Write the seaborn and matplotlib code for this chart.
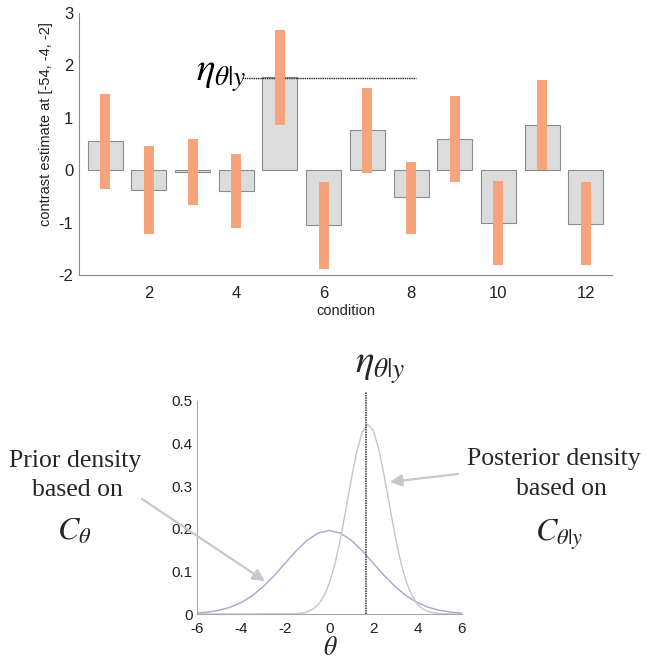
import numpy as np
import matplotlib
matplotlib.use("Agg")
import matplotlib.pyplot as plt
import seaborn as sns

# ---------------- data ----------------
conditions = [1, 2, 3, 4, 5, 6, 7, 8, 9, 10, 11, 12]
estimates = [0.56, -0.38, -0.04, -0.40, 1.77, -1.05, 0.76, -0.52, 0.59, -1.00, 0.86, -1.02]
ci_lower = [-0.35, -1.22, -0.67, -1.11, 0.86, -1.88, -0.05, -1.22, -0.22, -1.81, 0.01, -1.81]
ci_upper = [1.45, 0.46, 0.60, 0.31, 2.67, -0.22, 1.56, 0.16, 1.41, -0.20, 1.72, -0.22]
eta_top = 1.76
eta_bottom = 1.66

top_xticks = [2, 4, 6, 8, 10, 12]
top_yticks = [-2, -1, 0, 1, 2, 3]
bottom_xticks = [-6, -4, -2, 0, 2, 4, 6]
bottom_yticks = [0, 0.1, 0.2, 0.3, 0.4, 0.5]
bottom_yticklabels = ["0", "0.1", "0.2", "0.3", "0.4", "0.5"]

prior_theta = [-6.0, -5.5, -5.0, -4.5, -4.0, -3.5, -3.0, -2.5, -2.0, -1.5, -1.0, -0.5,
               0.0, 0.5, 1.0, 1.5, 2.0, 2.5, 3.0, 3.5, 4.0, 4.5, 5.0, 5.5, 6.0]
prior_density = [0.0022, 0.0045, 0.0086, 0.0156, 0.0265, 0.0424, 0.0636, 0.0897, 0.119,
                 0.148, 0.173, 0.190, 0.196, 0.190, 0.173, 0.148, 0.119, 0.0897, 0.0636,
                 0.0424, 0.0265, 0.0156, 0.0086, 0.0045, 0.0022]

post_theta = [-6.0, -4.0, -2.0, -1.5, -1.25, -1.0, -0.75, -0.5, -0.25, 0.0, 0.25, 0.5, 0.75,
              1.0, 1.25, 1.5, 1.75, 2.0, 2.25, 2.5, 2.75, 3.0, 3.25, 3.5, 3.75, 4.0,
              4.25, 4.5, 4.75, 5.0, 5.5, 6.0]
post_density = [0.0, 0.0, 0.0002, 0.0008, 0.0021, 0.0049, 0.0108, 0.0218, 0.0409, 0.0714,
                0.1157, 0.1742, 0.2436, 0.3163, 0.3816, 0.4276, 0.445, 0.4301, 0.3862,
                0.3220, 0.2494, 0.1794, 0.1199, 0.0744, 0.0429, 0.0230, 0.0114, 0.0053,
                0.0023, 0.0009, 0.0001, 0.0]

# ---------------- style ----------------
sns.set_style("white")
plt.rcParams["font.family"] = ["Liberation Sans", "DejaVu Sans"]
plt.rcParams["mathtext.fontset"] = "stix"
plt.rcParams["axes.unicode_minus"] = False

W, H = 650, 661
fig = plt.figure(figsize=(W / 100, H / 100), dpi=100)
fig.patch.set_facecolor("white")

def px(x0, y0, x1, y1):
    return [x0 / W, 1 - y1 / H, (x1 - x0) / W, (y1 - y0) / H]

spine_col = "#8a8a8a"
tick_lab_col = "#222222"
orange = "#f5a47c"
bar_fill = "#dcdcdc"
bar_edge = "#8c8c8c"

# ---------------- top chart ----------------
ax1 = fig.add_axes(px(79, 13, 612, 275))
sns.barplot(x=conditions, y=estimates, native_scale=True, orient="x", width=0.8,
            color=bar_fill, edgecolor=bar_edge, linewidth=0.8, saturation=1,
            errorbar=None, ax=ax1, zorder=2)
heights = [u - l for u, l in zip(ci_upper, ci_lower)]
ax1.bar(conditions, heights, bottom=ci_lower, width=0.23, color=orange,
        linewidth=0, zorder=4)
ax1.hlines(eta_top, 4.14, 8.12, colors="#222222", linestyles=(0, (1, 0.6)),
           linewidth=1.0, zorder=3)
ax1.set_xlim(0.4, 12.6)
ax1.set_ylim(-2, 3)
ax1.set_xticks(top_xticks)
ax1.set_yticks(top_yticks)
ax1.set_yticklabels([str(v) for v in top_yticks])
ax1.set_xticklabels([str(v) for v in top_xticks])
for s in ["top", "right"]:
    ax1.spines[s].set_visible(False)
for s in ["left", "bottom"]:
    ax1.spines[s].set_color(spine_col)
    ax1.spines[s].set_linewidth(0.8)
ax1.tick_params(axis="both", direction="in", length=4, width=0.8, color=spine_col,
                labelcolor=tick_lab_col, labelsize=12)
ax1.tick_params(axis="x", pad=8)
ax1.tick_params(axis="y", pad=4)
ax1.set_xlabel("condition", fontsize=10.5, color=tick_lab_col, labelpad=2)
ax1.set_ylabel("contrast estimate at [-54, -4, -2]", fontsize=10.5, color=tick_lab_col)
ax1.yaxis.set_label_coords(-0.048, 0.576)
ax1.text(3.07, 1.70, r"$\eta_{\theta|y}$", fontsize=28, ha="left", va="baseline",
         color="black", zorder=5)

# ---------------- bottom chart ----------------
ax2 = fig.add_axes(px(196.7, 401, 461.7, 614))
sns.lineplot(x=prior_theta, y=prior_density, color="#a6a6cf", linewidth=1.0, ax=ax2)
sns.lineplot(x=post_theta, y=post_density, color="#c6c6c6", linewidth=1.0, ax=ax2)
ax2.plot([eta_bottom, eta_bottom], [0, 0.522], color="#333333", linestyle=(0, (1, 0.6)),
         linewidth=1.1, clip_on=False, zorder=5)
ax2.set_xlim(-6, 6)
ax2.set_ylim(0, 0.5)
ax2.set_xticks(bottom_xticks)
ax2.set_xticklabels([str(v) for v in bottom_xticks])
ax2.set_yticks(bottom_yticks)
ax2.set_yticklabels(bottom_yticklabels)
for s in ["top", "right"]:
    ax2.spines[s].set_visible(False)
for s in ["left", "bottom"]:
    ax2.spines[s].set_color("#a8a8a8")
    ax2.spines[s].set_linewidth(0.8)
ax2.tick_params(axis="both", direction="in", length=3, width=0.8, color="#a8a8a8",
                labelcolor=tick_lab_col, labelsize=11)
ax2.tick_params(axis="x", pad=5.5)
ax2.tick_params(axis="y", pad=3)
ax2.text(1.16, 0.566, r"$\eta_{\theta|y}$", fontsize=28, ha="left", va="baseline",
         clip_on=False)

def ftxt(x, y, s, **kw):
    fig.text(x / W, 1 - y / H, s, **kw)

serif = ["Liberation Serif", "DejaVu Serif"]
ftxt(330, 660, r"$\theta$", fontsize=18.5, ha="center", va="bottom")
ftxt(75, 467, "Prior density", fontsize=18.5, family=serif, ha="center", va="baseline")
ftxt(77, 496, "based on", fontsize=18.5, family=serif, ha="center", va="baseline")
ftxt(57, 540, r"$C_{\theta}$", fontsize=23, ha="left", va="baseline")
ftxt(554, 465, "Posterior density", fontsize=18.5, family=serif, ha="center", va="baseline")
ftxt(561, 495, "based on", fontsize=18.5, family=serif, ha="center", va="baseline")
ftxt(535, 541, r"$C_{\theta|y}$", fontsize=23, ha="left", va="baseline")

arrow_col = "#c8c8c8"
ax2.annotate("", xy=(-2.91, 0.077), xycoords="data",
             xytext=(142, H - 499), textcoords="figure pixels",
             arrowprops=dict(arrowstyle="-|>", color=arrow_col, lw=1.6,
                             mutation_scale=18, shrinkA=0, shrinkB=0),
             annotation_clip=False)
ax2.annotate("", xy=(2.75, 0.31), xycoords="data",
             xytext=(458, H - 474), textcoords="figure pixels",
             arrowprops=dict(arrowstyle="-|>", color=arrow_col, lw=1.6,
                             mutation_scale=18, shrinkA=0, shrinkB=0),
             annotation_clip=False)

fig.savefig("out.png", dpi=100, facecolor="white")
